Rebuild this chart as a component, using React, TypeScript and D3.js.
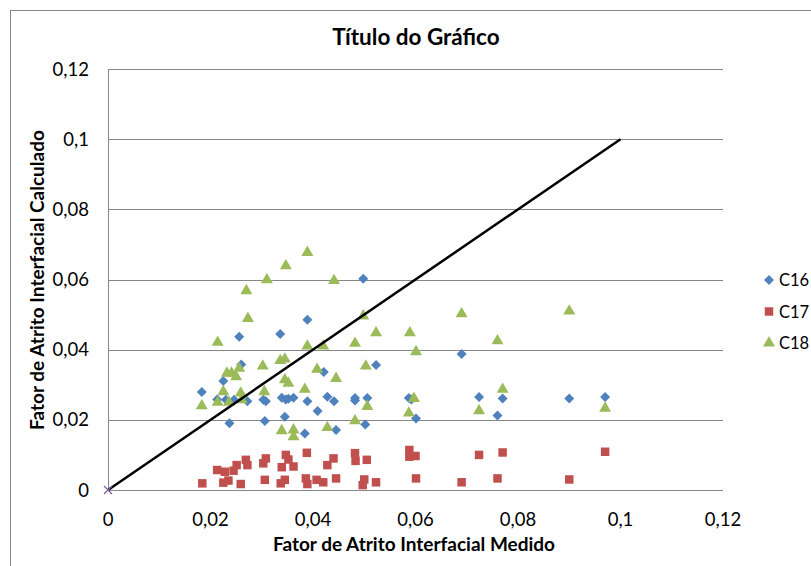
import React from "react";
import * as d3 from "d3";

const title = "Título do Gráfico";
const xTitle = "Fator de Atrito Interfacial Medido";
const yTitle = "Fator de Atrito Interfacial Calculado";
const ticks = [0, 0.02, 0.04, 0.06, 0.08, 0.1, 0.12];
const seriesNames = ["C16", "C17", "C18"];
const seriesColors = ["#4F81BD", "#C0504D", "#9BBB59"];
const refLine: [number, number][] = [[0, 0], [0.1, 0.1]];

const c16: [number, number][] = [
  [0.0183, 0.0279], [0.0213, 0.0258], [0.0225, 0.0311], [0.023, 0.0257], [0.0237, 0.019],
  [0.0246, 0.0257], [0.0256, 0.0437], [0.026, 0.0358], [0.0272, 0.0253], [0.0303, 0.0257],
  [0.0306, 0.0197], [0.0308, 0.0253], [0.0336, 0.0445], [0.0339, 0.0263], [0.0345, 0.0209],
  [0.0347, 0.0258], [0.0352, 0.026], [0.0362, 0.0263], [0.0384, 0.0161], [0.0389, 0.0485],
  [0.0389, 0.0253], [0.0409, 0.0225], [0.0421, 0.0336], [0.0428, 0.0266], [0.0441, 0.0253],
  [0.0445, 0.0171], [0.0482, 0.0262], [0.0482, 0.0255], [0.0498, 0.0602], [0.0502, 0.0187],
  [0.0506, 0.0262], [0.0523, 0.0356], [0.0587, 0.0262], [0.0592, 0.0258], [0.0601, 0.0204],
  [0.069, 0.0388], [0.0724, 0.0265], [0.076, 0.0212], [0.077, 0.0261], [0.09, 0.0261],
  [0.097, 0.0265],
];

const c17: [number, number][] = [
  [0.0184, 0.0019], [0.0213, 0.0057], [0.0225, 0.0021], [0.0228, 0.0052], [0.0235, 0.0027],
  [0.0245, 0.0055], [0.0251, 0.0071], [0.0259, 0.0017], [0.0269, 0.0086], [0.0272, 0.0071],
  [0.0303, 0.0076], [0.0306, 0.0029], [0.0308, 0.009], [0.0337, 0.0019], [0.0339, 0.0065],
  [0.0345, 0.0029], [0.0347, 0.01], [0.0352, 0.0087], [0.0362, 0.0067], [0.0386, 0.0033],
  [0.0388, 0.0106], [0.0389, 0.0017], [0.0407, 0.0029], [0.042, 0.0022], [0.0428, 0.0071],
  [0.044, 0.009], [0.0445, 0.0033], [0.0482, 0.0105], [0.0483, 0.0083], [0.0497, 0.0014],
  [0.05, 0.003], [0.0505, 0.0086], [0.0523, 0.0022], [0.0588, 0.0114], [0.0588, 0.0095],
  [0.06, 0.0097], [0.0601, 0.0033], [0.069, 0.0022], [0.0724, 0.01], [0.076, 0.0033],
  [0.077, 0.0107], [0.09, 0.003], [0.097, 0.0109],
];

const c18: [number, number][] = [
  [0.0183, 0.024], [0.0214, 0.0421], [0.0214, 0.025], [0.0225, 0.028], [0.0232, 0.0333],
  [0.0236, 0.025], [0.0241, 0.0333], [0.025, 0.0323], [0.0256, 0.0347], [0.0259, 0.0276],
  [0.0261, 0.0257], [0.027, 0.0568], [0.0273, 0.0489], [0.0302, 0.0353], [0.0305, 0.028],
  [0.031, 0.0599], [0.0336, 0.0369], [0.0339, 0.0169], [0.0345, 0.0373], [0.0345, 0.0314],
  [0.0347, 0.0639], [0.0352, 0.0304], [0.0362, 0.0171], [0.0362, 0.0152], [0.0384, 0.0287],
  [0.0389, 0.0677], [0.0389, 0.041], [0.0408, 0.0344], [0.042, 0.041], [0.0428, 0.0178],
  [0.0441, 0.0597], [0.0445, 0.0318], [0.0482, 0.0418], [0.0482, 0.0197], [0.0498, 0.0496],
  [0.0503, 0.0353], [0.0506, 0.0238], [0.0523, 0.0448], [0.0587, 0.0219], [0.0589, 0.0448],
  [0.0597, 0.0261], [0.0601, 0.0394], [0.069, 0.0502], [0.0724, 0.0226], [0.076, 0.0425],
  [0.077, 0.0287], [0.09, 0.051], [0.097, 0.0233],
];

const seriesData = [c16, c17, c18];

const W = 811;
const H = 566;
const FONT = "Lato, 'Open Sans', sans-serif";

function markerPath(i: number): string {
  if (i === 0) return d3.symbol(d3.symbolSquare, 50)() as string;
  if (i === 1) return d3.symbol(d3.symbolSquare, 72)() as string;
  return d3.symbol(d3.symbolTriangle, 62)() as string;
}

export default function App() {
  const x = d3.scaleLinear().domain([0, 0.12]).range([108, 723]);
  const y = d3.scaleLinear().domain([0, 0.12]).range([490, 69]);
  const fmt = (v: number) => d3.format(".2~f")(v).replace(".", ",");
  const line = d3.line<[number, number]>().x((d) => x(d[0])).y((d) => y(d[1]));

  return (
    <svg width={W} height={H} style={{ position: "absolute", left: 0, top: 0 }}>
      <rect x={0} y={0} width={W} height={H} fill="#fff" />
      <rect x={10.5} y={10.5} width={W + 20} height={H + 20} fill="#fff" stroke="#868686" strokeWidth={1} />
      <text x={416} y={45} textAnchor="middle" fontFamily={FONT} fontWeight="bold" fontSize={22.5} fill="#000">
        {title}
      </text>
      {ticks.map((t) => (
        <line key={"g" + t} x1={x(0)} x2={x(0.12)} y1={Math.round(y(t)) + 0.5} y2={Math.round(y(t)) + 0.5}
          stroke="#868686" strokeWidth={1} />
      ))}
      <line x1={x(0) + 0.5} x2={x(0) + 0.5} y1={y(0.12)} y2={y(0)} stroke="#868686" strokeWidth={1} />
      {ticks.map((t) => (
        <text key={"yl" + t} x={89} y={y(t) + 6.5} textAnchor="end" fontFamily={FONT} fontSize={18.5} fill="#000">
          {fmt(t)}
        </text>
      ))}
      {ticks.map((t) => (
        <text key={"xl" + t} x={x(t)} y={525.5} textAnchor="middle" fontFamily={FONT} fontSize={18.5} fill="#000">
          {fmt(t)}
        </text>
      ))}
      <text x={414} y={551} textAnchor="middle" fontFamily={FONT} fontWeight="bold" fontSize={19} fill="#000">
        {xTitle}
      </text>
      <text transform={`translate(44,280) rotate(-90)`} textAnchor="middle" fontFamily={FONT} fontWeight="bold"
        fontSize={19} fill="#000">
        {yTitle}
      </text>
      {seriesData.map((data, i) => (
        <g key={"s" + i} fill={seriesColors[i]}>
          {data.map((d, j) => (
            <path key={j} d={markerPath(i)}
              transform={`translate(${x(d[0])},${y(d[1])})${i === 0 ? " rotate(45)" : ""}`} />
          ))}
        </g>
      ))}
      <path d={line(refLine) as string} fill="none" stroke="#000" strokeWidth={2.5} />
      <g transform={`translate(${x(refLine[0][0])},${y(refLine[0][1])})`} stroke="#8064A2" strokeWidth={1.2}>
        <line x1={-4} y1={-4} x2={4} y2={4} />
        <line x1={-4} y1={4} x2={4} y2={-4} />
      </g>
      {seriesNames.map((n, i) => (
        <g key={"lg" + i} transform={`translate(0,${280 + i * 31.5})`}>
          <path d={markerPath(i)} fill={seriesColors[i]}
            transform={`translate(769,0)${i === 0 ? " rotate(45)" : ""}`} />
          <text x={779} y={6} fontFamily={FONT} fontSize={16.5} fill="#000">{n}</text>
        </g>
      ))}
    </svg>
  );
}
